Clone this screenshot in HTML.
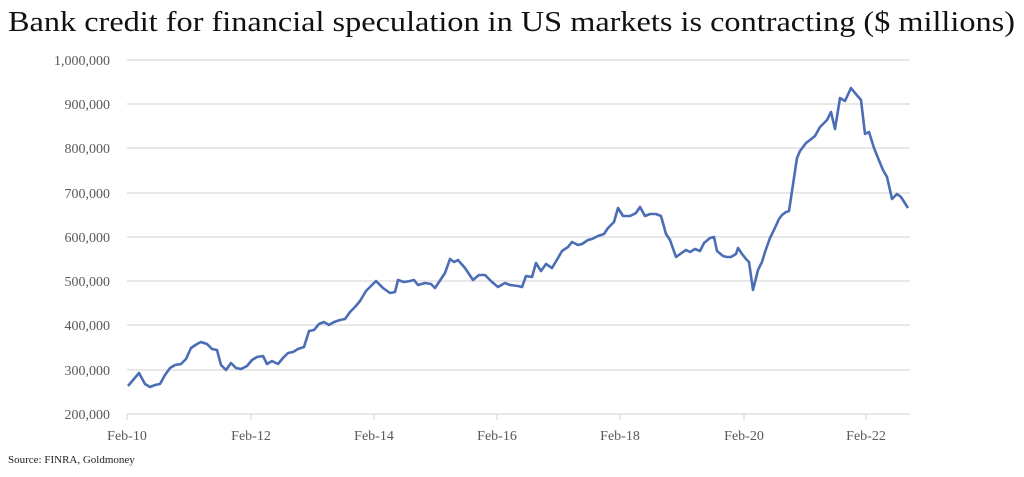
<!DOCTYPE html>
<html><head><style>
body{margin:0;background:#fff;width:1024px;height:472px;overflow:hidden;font-family:"Liberation Serif",serif}
</style></head><body>
<svg width="1024" height="472" xmlns="http://www.w3.org/2000/svg" font-family="Liberation Serif, serif">
<text x="8" y="31" font-size="29" fill="#111" textLength="1007" lengthAdjust="spacingAndGlyphs">Bank credit for financial speculation in US markets is contracting ($ millions)</text>
<g stroke="#d9d9d9" stroke-width="1.2">
<line x1="127" x2="910" y1="60" y2="60"/><line x1="127" x2="910" y1="104" y2="104"/>
<line x1="127" x2="910" y1="148" y2="148"/><line x1="127" x2="910" y1="193" y2="193"/>
<line x1="127" x2="910" y1="237" y2="237"/><line x1="127" x2="910" y1="281" y2="281"/>
<line x1="127" x2="910" y1="325" y2="325"/><line x1="127" x2="910" y1="370" y2="370"/>
<line x1="127" x2="910" y1="414" y2="414"/>
<line x1="127" x2="127" y1="414" y2="420"/><line x1="251" x2="251" y1="414" y2="420"/>
<line x1="374" x2="374" y1="414" y2="420"/><line x1="497" x2="497" y1="414" y2="420"/>
<line x1="620" x2="620" y1="414" y2="420"/><line x1="744" x2="744" y1="414" y2="420"/>
<line x1="866" x2="866" y1="414" y2="420"/>
</g>
<g font-size="14" fill="#595959" text-anchor="end">
<text x="110" y="65">1,000,000</text><text x="110" y="109">900,000</text>
<text x="110" y="153">800,000</text><text x="110" y="198">700,000</text>
<text x="110" y="242">600,000</text><text x="110" y="286">500,000</text>
<text x="110" y="330">400,000</text><text x="110" y="375">300,000</text>
<text x="110" y="419">200,000</text>
</g>
<g font-size="14" fill="#595959" text-anchor="middle">
<text x="127" y="440">Feb-10</text><text x="251" y="440">Feb-12</text>
<text x="374" y="440">Feb-14</text><text x="497" y="440">Feb-16</text>
<text x="620" y="440">Feb-18</text><text x="744" y="440">Feb-20</text>
<text x="866" y="440">Feb-22</text>
</g>
<text x="8" y="463" font-size="11" fill="#222">Source: FINRA, Goldmoney</text>
<polyline fill="none" stroke="#4a6db5" stroke-width="2.6" stroke-linejoin="round" points="128,386 139,373 145,384 150,387 155,385 160,384 165,375 170,368 175,365 181,364 186,359 191,348 197,344 201,342 207,344 212,349 217,350 221,365 226,370 231,363 236,368 241,369 247,366 252,360 257,357 263,356 267,364 272,361 278,364 283,358 288,353 293,352 298,349 304,347 309,331 314,330 319,324 324,322 329,325 334,322 340,320 345,319 350,312 355,307 360,301 366,291 371,286 376,281 383,288 390,293 395,292 398,280 404,282 410,281 414,280 418,285 425,283 431,284 435,288 441,279 445,273 450,259 454,262 458,260 465,268 473,280 479,275 485,275 492,282 498,287 505,283 510,285 518,286 522,287 526,276 532,277 536,263 541,271 546,264 552,268 558,258 562,251 568,247 572,242 578,245 582,244 588,240 592,239 598,236 604,234 608,228 614,222 618,208 623,216 630,216 636,213 640,207 645,216 650,214 656,214 661,216 666,234 670,240 676,257 683,252 686,250 690,252 695,249 700,251 704,243 710,238 714,237 717,251 723,256 727,257 731,257 736,254 738,248 742,254 746,259 749,262 753,290 758,270 762,262 765,252 770,238 773,232 779,219 782,215 786,212 789,211 797,158 800,151 806,143 810,140 815,136 820,127 823,124 827,120 831,112 835,129 840,98 845,101 851,88 855,93 861,100 865,134 869,132 874,148 878,158 883,170 887,177 892,199 897,194 901,197 908,208"/>
</svg>
</body></html>
